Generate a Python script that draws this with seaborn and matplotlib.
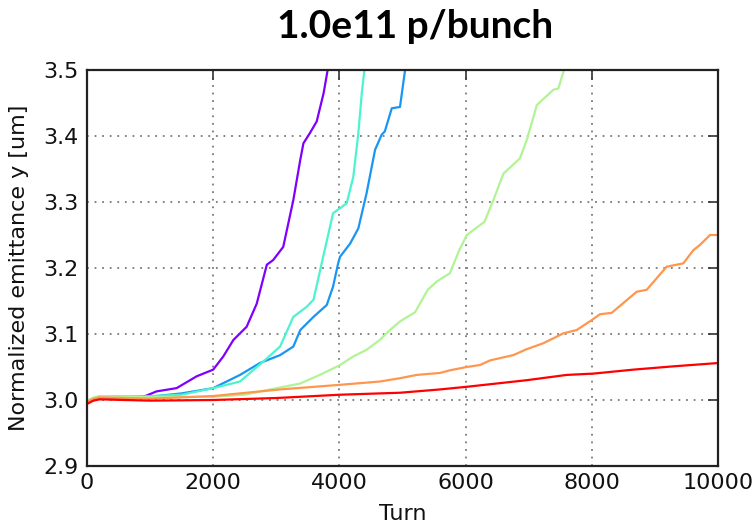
import numpy as np
import pandas as pd
import matplotlib
matplotlib.use("Agg")
import matplotlib.pyplot as plt
import seaborn as sns

# Vertical emittance growth for six scan settings (turns, emittance in um)
turn_a = [0, 100, 200, 600, 900, 1100, 1420, 1740, 2000, 2160, 2320, 2530, 2690, 2850,
          2950, 3110, 3270, 3380, 3430, 3530, 3640, 3750, 3850]
emit_a = [2.998, 3.002, 3.004, 3.003, 3.005, 3.013, 3.018, 3.036, 3.046, 3.066, 3.091,
          3.111, 3.146, 3.205, 3.212, 3.232, 3.303, 3.364, 3.389, 3.404, 3.422, 3.465, 3.52]

turn_b = [0, 100, 200, 1000, 1500, 2000, 2425, 2740, 3060, 3270, 3380, 3590, 3800, 3900,
          3980, 4010, 4170, 4300, 4430, 4565, 4670, 4720, 4830, 4960, 5070]
emit_b = [2.998, 3.002, 3.005, 3.005, 3.010, 3.018, 3.038, 3.056, 3.068, 3.081, 3.106,
          3.126, 3.144, 3.172, 3.207, 3.217, 3.237, 3.260, 3.313, 3.379, 3.402, 3.407,
          3.442, 3.444, 3.52]

turn_c = [0, 100, 200, 800, 1500, 2000, 2425, 2850, 3060, 3270, 3480, 3590, 3745, 3900,
          4115, 4220, 4300, 4355, 4420]
emit_c = [2.999, 3.003, 3.006, 3.005, 3.008, 3.018, 3.028, 3.063, 3.081, 3.126, 3.141,
          3.152, 3.218, 3.283, 3.298, 3.338, 3.404, 3.465, 3.52]

turn_d = [0, 100, 200, 1000, 2000, 2500, 2850, 3380, 3690, 4010, 4220, 4430, 4640, 4800,
          4960, 5200, 5400, 5550, 5750, 5900, 6020, 6300, 6440, 6600, 6860, 6970, 7130,
          7390, 7470, 7550, 7600]
emit_d = [2.999, 3.003, 3.006, 3.004, 3.005, 3.008, 3.015, 3.025, 3.038, 3.053, 3.066,
          3.076, 3.091, 3.106, 3.119, 3.133, 3.167, 3.180, 3.192, 3.227, 3.250, 3.270,
          3.303, 3.343, 3.366, 3.394, 3.447, 3.470, 3.472, 3.497, 3.52]

turn_e = [0, 100, 200, 1000, 2000, 3060, 4010, 4640, 4960, 5225, 5594, 5753, 6017, 6228,
          6387, 6756, 6968, 7232, 7549, 7760, 7998, 8130, 8315, 8711, 8870, 9187, 9450,
          9609, 9715, 9873, 10000]
emit_e = [2.997, 3.002, 3.004, 3.002, 3.006, 3.016, 3.023, 3.028, 3.033, 3.038, 3.041,
          3.045, 3.050, 3.053, 3.060, 3.068, 3.077, 3.086, 3.101, 3.106, 3.121, 3.130,
          3.132, 3.164, 3.167, 3.202, 3.207, 3.227, 3.235, 3.250, 3.250]

turn_f = [0, 100, 200, 1000, 2000, 3000, 4010, 4960, 5594, 6017, 6968, 7602, 8025, 8658,
          9292, 10000]
emit_f = [2.994, 2.999, 3.001, 2.999, 3.000, 3.003, 3.008, 3.011, 3.016, 3.020, 3.030,
          3.038, 3.040, 3.046, 3.051, 3.056]

series_names = ["a", "b", "c", "d", "e", "f"]
series_turns = [turn_a, turn_b, turn_c, turn_d, turn_e, turn_f]
series_emit = [emit_a, emit_b, emit_c, emit_d, emit_e, emit_f]

title = "1.0e11 p/bunch"
x_label = "Turn"
y_label = "Normalized emittance y [um]"
x_ticks = [0, 2000, 4000, 6000, 8000, 10000]
y_ticks = [2.9, 3.0, 3.1, 3.2, 3.3, 3.4, 3.5]

df = pd.concat(
    [pd.DataFrame({"turn": t, "emit": e, "run": n})
     for n, t, e in zip(series_names, series_turns, series_emit)],
    ignore_index=True,
)

sns.set_theme(style="white")
plt.rcParams["font.family"] = ["DejaVu Sans"]

palette = [matplotlib.colors.to_hex(c)
           for c in plt.get_cmap("rainbow")(np.linspace(0, 1, len(series_names)))]

fig = plt.figure(figsize=(7.56, 5.25), dpi=100)
ax = fig.add_axes([87 / 756, 1 - 466 / 525, (718 - 87) / 756, (466 - 70) / 525])

sns.lineplot(data=df, x="turn", y="emit", hue="run", palette=palette,
             estimator=None, sort=False, linewidth=1.6, legend=False, ax=ax)

ax.set_xlim(0, 10000)
ax.set_ylim(2.9, 3.5)
ax.set_xticks(x_ticks)
ax.set_yticks(y_ticks)
ax.set_xticklabels([str(v) for v in x_ticks])
ax.set_yticklabels([f"{v:.1f}" for v in y_ticks])
ax.grid(True, color="#7a7a7a", linestyle=(0, (1, 3.2)), linewidth=1.3)
ax.set_axisbelow(True)
for s in ax.spines.values():
    s.set_color("#222222")
    s.set_linewidth(1.6)
ax.tick_params(direction="in", length=7, width=1.2, color="#333333",
               top=True, right=True, labelsize=16, labelcolor="#111111")
ax.tick_params(axis="x", pad=5)
ax.tick_params(axis="y", pad=6)
ax.set_xlabel(x_label, fontsize=16, color="#111111", labelpad=8)
ax.set_ylabel(y_label, fontsize=16, color="#111111", labelpad=10)

fig.text(0.549, 0.949, title, ha="center", va="center", fontsize=28,
         fontweight="bold", family=["Lato", "DejaVu Sans"], color="#000000")

fig.savefig("out.png", dpi=100)
